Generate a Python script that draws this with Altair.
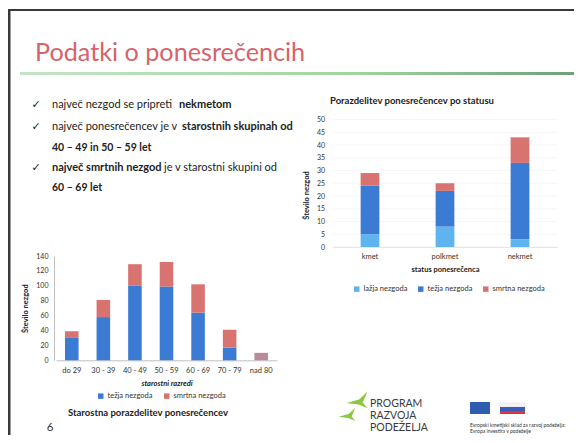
import altair as alt
import pandas as pd

W, H = 566, 427

# ---------------- data ----------------
slide_title = "Podatki o ponesrečencih"

status_cats = ["kmet", "polkmet", "nekmet"]
status_types = ["lažja nezgoda", "težja nezgoda", "smrtna nezgoda"]
status_lazja = [5, 8, 3]
status_tezja = [19, 14, 30]
status_smrtna = [5, 3, 10]
status_ticks = [0, 5, 10, 15, 20, 25, 30, 35, 40, 45, 50]

age_cats = ["do 29", "30 - 39", "40 - 49", "50 - 59", "60 - 69", "70 - 79", "nad 80"]
age_types = ["težja nezgoda", "smrtna nezgoda"]
age_tezja = [30, 58, 100, 99, 64, 17, 0]
age_smrtna = [9, 23, 29, 33, 38, 24, 10]
age_ticks = [0, 20, 40, 60, 80, 100, 120, 140]

chart1_title = "Porazdelitev ponesrečencev po statusu"
chart1_xtitle = "status ponesrečenca"
chart2_title = "Starostna porazdelitev ponesrečencev"
chart2_xtitle = "starostni razredi"
ytitle = "Število nezgod"

bullet_lines = [
    [("največ nezgod se pripreti ", "normal"), ("nekmetom", "bold")],
    [("največ ponesrečencev je v ", "normal"), ("starostnih skupinah  od", "bold")],
    [("40 – 49 in 50 – 59 let", "bold")],
    [("največ smrtnih nezgod", "bold"), (" je v starostni skupini od", "normal")],
    [("60 – 69 let", "bold")],
]
checkmark = "✓"
logo_words = ["PROGRAM", "RAZVOJA", "PODEŽELJA"]
fund_lines = ["Evropski kmetijski sklad za razvoj podeželja:", "Evropa investira v podeželje"]
page_number = "6"

LIGHT = "#5db4ee"
BLUE = "#3c7bd4"
RED = "#d9736f"
FONT = "Lato"

one = pd.DataFrame({"k": [0]})


def txt(text, x, y, size, weight="normal", color="#222222", align="left",
        font=FONT, angle=0, style="normal", baseline="middle"):
    return alt.Chart(pd.DataFrame({"t": [text]})).mark_text(
        align=align, baseline=baseline, fontSize=size, fontWeight=weight,
        font=font, color=color, angle=angle, fontStyle=style
    ).encode(x=alt.value(x), y=alt.value(y), text="t:N")


def box(x, x2, y, y2, color, stroke=None):
    kw = {"color": color}
    if stroke:
        kw["stroke"] = stroke
        kw["strokeWidth"] = 0.5
    return alt.Chart(one).mark_rect(**kw).encode(
        x=alt.value(x), x2=alt.value(x2), y=alt.value(y), y2=alt.value(y2))


layers = []

# slide border
layers.append(alt.Chart(one).mark_rule(color="#3a3a3a", strokeWidth=3).encode(
    x=alt.value(1), y=alt.value(2), y2=alt.value(H)))
layers.append(alt.Chart(one).mark_rule(color="#3a3a3a", strokeWidth=2).encode(
    x=alt.value(0), x2=alt.value(W), y=alt.value(2)))

# slide title
layers.append(txt(slide_title, 27, 53, 25.2, color="#d6636b", baseline="alphabetic"))

# green line
grad = alt.LinearGradient(
    gradient="linear",
    stops=[alt.GradientStop(color="#c4e4c4", offset=0),
           alt.GradientStop(color="#a2d4a2", offset=0.6),
           alt.GradientStop(color="#6f9f78", offset=1)],
    x1=0, x2=1, y1=0, y2=0)
layers.append(alt.Chart(one).mark_rect(color=grad).encode(
    x=alt.value(12), x2=alt.value(W), y=alt.value(64), y2=alt.value(67)))

# bullets
bullet_y = [97, 119, 140, 160, 180]
bullet_size = [11, 11, 10.5, 11, 10.5]
seg_x = {0: [44, 171], 1: [44, 174], 2: [44], 3: [44, 156], 4: [44]}
for i, line in enumerate(bullet_lines):
    if i in (0, 1, 3):
        layers.append(txt(checkmark, 28, bullet_y[i], 11, weight="bold",
                          font="DejaVu Sans", align="center"))
    for j, (seg, w) in enumerate(line):
        layers.append(txt(seg, seg_x[i][j], bullet_y[i], bullet_size[i], weight=w))

# ---------------- chart 1 (status) ----------------
rows1 = []
for c, a, b, s in zip(status_cats, status_lazja, status_tezja, status_smrtna):
    rows1 += [{"status": c, "type": status_types[0], "value": a, "o": 0},
              {"status": c, "type": status_types[1], "value": b, "o": 1},
              {"status": c, "type": status_types[2], "value": s, "o": 2}]
df1 = pd.DataFrame(rows1)

y1_bottom, y1_top = 239, 111.5
x1_left, x1_right = 324.5, 549.5

y1_scale = alt.Scale(domain=[0, 50], range=[y1_bottom, y1_top], nice=False)
y1_axis = alt.Axis(orient="left", offset=-x1_left, values=status_ticks, grid=False,
                   domain=False, ticks=False, labelPadding=8, labelFontSize=7,
                   labelFont=FONT, labelColor="#333333", title=ytitle,
                   titleFontSize=7.5, titleFont=FONT, titleFontWeight="bold",
                   titleColor="#222222", titlePadding=6, titleY=187)

grid1 = alt.Chart(pd.DataFrame({"v": status_ticks})).mark_rule(
    color="#f0f0f0", strokeWidth=0.7).encode(
    y=alt.Y("v:Q", scale=y1_scale, axis=y1_axis),
    x=alt.value(x1_left), x2=alt.value(x1_right))

bars1 = alt.Chart(df1).mark_bar().encode(
    x=alt.X("status:N", sort=status_cats,
            scale=alt.Scale(domain=status_cats, range=[x1_left, x1_right],
                            paddingInner=0.75, paddingOuter=0.375),
            axis=alt.Axis(orient="bottom", offset=y1_bottom - H, labelAngle=0,
                          domain=True, domainColor="#e0e0e0", ticks=False,
                          labelPadding=5, labelFontSize=7.5, labelFont=FONT,
                          labelColor="#333333", title=chart1_xtitle,
                          titleFontSize=7.5, titleFont=FONT, titleFontWeight="bold",
                          titleColor="#222222", titlePadding=6)),
    y=alt.Y("value:Q", stack="zero", scale=y1_scale, axis=y1_axis),
    color=alt.Color("type:N", scale=alt.Scale(domain=status_types, range=[LIGHT, BLUE, RED]),
                    legend=alt.Legend(orient="none", legendX=345, legendY=277,
                                      direction="horizontal", title=None,
                                      symbolType="square", symbolSize=30,
                                      symbolStrokeWidth=0, labelFontSize=7.5,
                                      labelFont=FONT, labelColor="#333333",
                                      columnPadding=9, labelOffset=3)),
    order=alt.Order("o:Q"))

chart1 = alt.layer(grid1, bars1)
layers.append(txt(chart1_title, 322, 93, 9.5, weight="bold"))

# ---------------- chart 2 (age) ----------------
rows2 = []
for c, b, s in zip(age_cats, age_tezja, age_smrtna):
    rows2 += [{"age": c, "type": age_types[0], "value": b, "o": 0},
              {"age": c, "type": age_types[1], "value": s, "o": 1}]
df2 = pd.DataFrame(rows2)

y2_bottom, y2_top = 352.3, 248
x2_left, x2_right = 48, 269

bars2 = alt.Chart(df2).mark_bar().encode(
    x=alt.X("age:N", sort=age_cats,
            scale=alt.Scale(domain=age_cats, range=[x2_left, x2_right],
                            paddingInner=0.57, paddingOuter=0.285),
            axis=alt.Axis(orient="bottom", offset=y2_bottom - H, labelAngle=0,
                          domain=True, domainColor="#bfbfbf", ticks=False,
                          labelPadding=6, labelFontSize=7.5, labelFont=FONT,
                          labelColor="#333333", title=chart2_xtitle,
                          titleFontSize=7.5, titleFont=FONT, titleFontWeight="bold",
                          titleFontStyle="italic", titleColor="#222222",
                          titlePadding=6)),
    y=alt.Y("value:Q", stack="zero",
            scale=alt.Scale(domain=[0, 140], range=[y2_bottom, y2_top], nice=False),
            axis=alt.Axis(orient="left", offset=-(x2_left - 2), values=age_ticks,
                          grid=False, domain=True, domainColor="#bfbfbf", ticks=False,
                          labelPadding=6, labelFontSize=7, labelFont=FONT,
                          labelColor="#333333", title=ytitle, titleFontSize=7.5,
                          titleFont=FONT, titleFontWeight="bold", titleColor="#222222",
                          titlePadding=6)),
    color=alt.condition(
        alt.datum.age == "nad 80", alt.value("#b88a9c"),
        alt.Color("type:N", scale=alt.Scale(domain=age_types, range=[BLUE, RED]),
                  legend=alt.Legend(orient="none", legendX=89, legendY=384,
                                    direction="horizontal", title=None,
                                    symbolType="square", symbolSize=30,
                                    symbolStrokeWidth=0, labelFontSize=7.5,
                                    labelFont=FONT, labelColor="#333333",
                                    columnPadding=10, labelOffset=3))),
    order=alt.Order("o:Q"))

layers.append(txt(chart2_title, 140, 405, 9.5, weight="bold", align="center"))

# ---------------- footer ----------------
layers.append(txt(page_number, 42, 420, 11.5, color="#333333", align="center"))

bird = "M -1 0.1 L 0.2 -0.25 L 1 -1 L 0.55 0.05 L 1 0.6 L 0.15 0.25 Z"
layers.append(alt.Chart(one).mark_point(shape=bird, filled=True, color="#8dc641",
                                        size=440, opacity=1).encode(
    x=alt.value(349), y=alt.value(394)))
layers.append(alt.Chart(one).mark_point(shape=bird, filled=True, color="#8dc641",
                                        size=280, opacity=1).encode(
    x=alt.value(339), y=alt.value(408)))
for k, w in enumerate(logo_words):
    layers.append(txt(w, 362, 396 + 12 * k, 10.5, color="#3a3a3a"))

layers.append(box(462, 482, 394, 406, "#2f5bb0"))
layers.append(box(492, 517, 395, 399, "#f4f4f4", stroke="#dddddd"))
layers.append(box(492, 517, 399, 403, "#3a5cb8"))
layers.append(box(492, 517, 403, 406, "#e0343a"))
for k, t in enumerate(fund_lines):
    layers.append(txt(t, 462, 417 + 6 * k, 5, color="#333333"))

layers.append(chart1)
layers.append(bars2)

chart = alt.layer(*layers).resolve_scale(
    x="independent", y="independent", color="independent"
).resolve_axis(x="independent", y="independent").resolve_legend(
    color="independent"
).properties(width=W, height=H, autosize="none", padding=0).configure_view(stroke=None)

chart.save("out.html", embed_options={"renderer": "svg", "actions": False})
